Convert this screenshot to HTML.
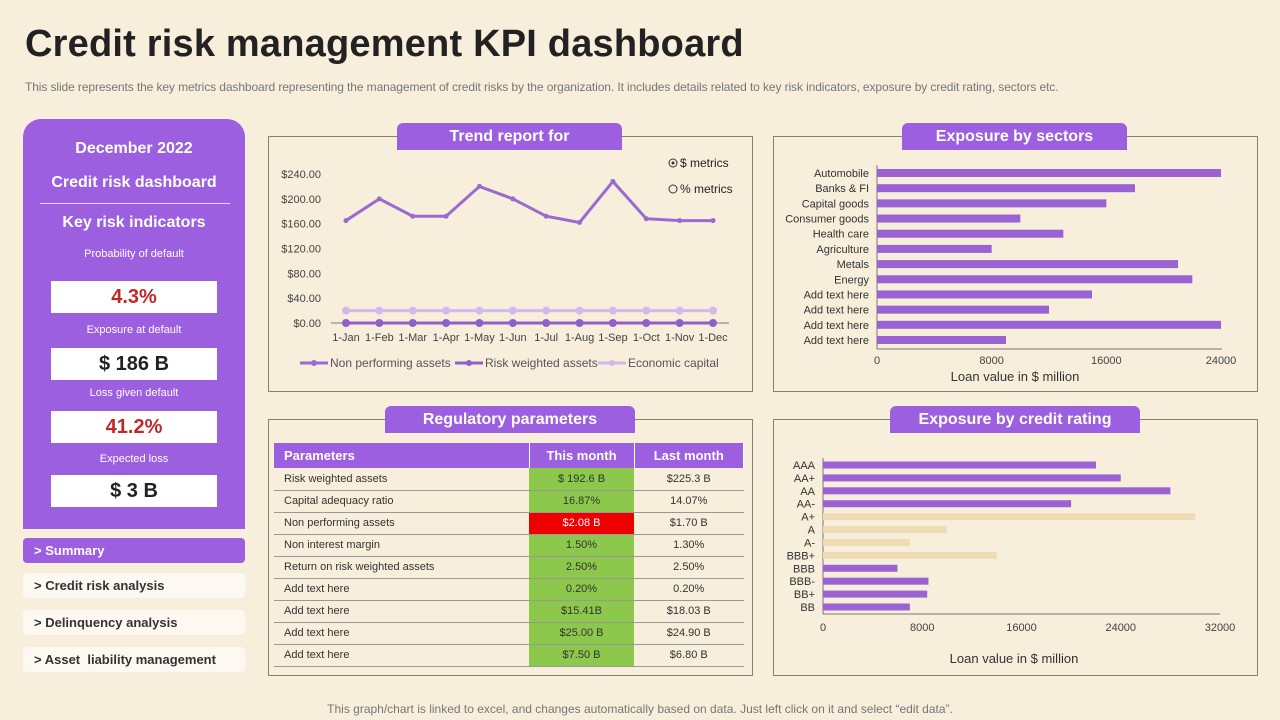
<!DOCTYPE html>
<html><head><meta charset="utf-8"><style>
*{box-sizing:border-box;margin:0;padding:0}
body{width:1280px;height:720px;background:#f7eedc;font-family:"Liberation Sans",sans-serif;position:relative;overflow:hidden;color:#333}
.abs{position:absolute}
.tab{position:absolute;background:#9b5fe0;color:#fff;font-weight:bold;font-size:16px;text-align:center;border-radius:6px 6px 0 0;line-height:27px;height:27px}
.box{position:absolute;border:1px solid #8a8070}
.kl{position:absolute;left:23px;width:222px;text-align:center;color:#fff;font-size:11px}
.kv{position:absolute;left:51px;width:166px;background:#fff;text-align:center;font-weight:bold;font-size:20px;line-height:32px;height:32px}
.nav{position:absolute;left:23px;width:222px;height:25px;line-height:25px;font-size:13px;font-weight:bold;padding-left:11px;border-radius:4px;background:#fdf9f2;color:#333}
table{position:absolute;left:274px;top:443px;width:470px;border-collapse:collapse;font-size:11px}
th{background:#9b5fe0;color:#fff;font-size:13px;height:25px;text-align:center;border-right:1px solid #fff}
th:first-child{text-align:left;padding-left:10px}
td{height:22px;border-bottom:1px solid #999;text-align:center;color:#333}
td:first-child{text-align:left;padding-left:10px}
td.g{background:#8cc84b}td.r{background:#ee0000;color:#fff}
svg text{font-family:"Liberation Sans",sans-serif}
</style></head><body>
<div class="abs" style="left:25px;top:23px;font-size:38px;font-weight:bold;color:#222;letter-spacing:0.2px">Credit risk management KPI dashboard</div>
<div class="abs" style="left:25px;top:80px;font-size:12px;color:#777;letter-spacing:-0.1px">This slide represents the key metrics dashboard representing the management of credit risks by the organization. It includes details related to key risk indicators, exposure by credit rating, sectors etc.</div>

<div class="abs" style="left:23px;top:119px;width:222px;height:410px;background:#9b5fe0;border-radius:18px 18px 0 0"></div>
<div class="kl" style="top:140px;font-size:16px;font-weight:bold">December 2022</div>
<div class="kl" style="top:174px;font-size:16px;font-weight:bold">Credit risk dashboard</div>
<div class="abs" style="left:40px;top:203px;width:190px;height:1px;background:#e6d6f5"></div>
<div class="kl" style="top:214px;font-size:16px;font-weight:bold">Key risk indicators</div>
<div class="kl" style="top:248px">Probability of default</div>
<div class="kv" style="top:281px;color:#c0282a">4.3%</div>
<div class="kl" style="top:324px">Exposure at default</div>
<div class="kv" style="top:348px;color:#222">$ 186 B</div>
<div class="kl" style="top:387px">Loss given default</div>
<div class="kv" style="top:411px;color:#c0282a">41.2%</div>
<div class="kl" style="top:453px">Expected loss</div>
<div class="kv" style="top:475px;color:#222">$ 3 B</div>

<div class="nav" style="top:538px;background:#9b5fe0;color:#fff">&gt; Summary</div>
<div class="nav" style="top:573px">&gt; Credit risk analysis</div>
<div class="nav" style="top:610px">&gt; Delinquency analysis</div>
<div class="nav" style="top:647px">&gt; Asset&nbsp; liability management</div>

<div class="box" style="left:268px;top:136px;width:485px;height:256px"></div>
<div class="box" style="left:773px;top:136px;width:485px;height:256px"></div>
<div class="box" style="left:268px;top:419px;width:485px;height:257px"></div>
<div class="box" style="left:773px;top:419px;width:485px;height:257px"></div>
<div class="tab" style="left:397px;top:123px;width:225px">Trend report for</div>
<div class="tab" style="left:902px;top:123px;width:225px">Exposure by sectors</div>
<div class="tab" style="left:385px;top:406px;width:250px">Regulatory parameters</div>
<div class="tab" style="left:890px;top:406px;width:250px">Exposure by credit rating</div>

<table>
<tr><th style="width:255px">Parameters</th><th style="width:105px">This month</th><th>Last month</th></tr>
<tr><td>Risk weighted assets</td><td class="g">$ 192.6 B</td><td>$225.3 B</td></tr>
<tr><td>Capital adequacy ratio</td><td class="g">16.87%</td><td>14.07%</td></tr>
<tr><td>Non performing assets</td><td class="r">$2.08 B</td><td>$1.70 B</td></tr>
<tr><td>Non interest margin</td><td class="g">1.50%</td><td>1.30%</td></tr>
<tr><td>Return on risk weighted assets</td><td class="g">2.50%</td><td>2.50%</td></tr>
<tr><td>Add text here</td><td class="g">0.20%</td><td>0.20%</td></tr>
<tr><td>Add text here</td><td class="g">$15.41B</td><td>$18.03 B</td></tr>
<tr><td>Add text here</td><td class="g">$25.00 B</td><td>$24.90 B</td></tr>
<tr><td>Add text here</td><td class="g">$7.50 B</td><td>$6.80 B</td></tr>
</table>

<svg id="svg" class="abs" style="left:0;top:0" width="1280" height="720"></svg>

<div class="abs" style="left:0;width:1280px;top:702px;text-align:center;font-size:12px;color:#777">This graph/chart is linked to excel, and changes automatically based on data. Just left click on it and select “edit data”.</div>

<script>
const months=["1-Jan","1-Feb","1-Mar","1-Apr","1-May","1-Jun","1-Jul","1-Aug","1-Sep","1-Oct","1-Nov","1-Dec"];
const npaValues=[165,200,172,172,220,200,172,162,228,168,165,165];
const rwaValues=[0,0,0,0,0,0,0,0,0,0,0,0];
const ecValues=[20,20,20,20,20,20,20,20,20,20,20,20];
const trendTicks=[0,40,80,120,160,200,240];
const sectors=["Automobile","Banks & FI","Capital goods","Consumer goods","Health care","Agriculture","Metals","Energy","Add text here","Add text here","Add text here","Add text here"];
const sectorValues=[24000,18000,16000,10000,13000,8000,21000,22000,15000,12000,24000,9000];
const sectorTicks=[0,8000,16000,24000];
const ratings=["AAA","AA+","AA","AA-","A+","A","A-","BBB+","BBB","BBB-","BB+","BB"];
const ratingValues=[22000,24000,28000,20000,30000,10000,7000,14000,6000,8500,8400,7000];
const ratingHighlight=[0,0,0,0,1,1,1,1,0,0,0,0];
const ratingTicks=[0,8000,16000,24000,32000];

const svg=document.getElementById('svg');const NS='http://www.w3.org/2000/svg';
function mk(t,a,txt){const e=document.createElementNS(NS,t);for(const k in a)e.setAttribute(k,a[k]);if(txt!==undefined)e.textContent=txt;svg.appendChild(e);return e;}

// trend chart
const tx=i=>346+i*(713-346)/(months.length-1);
const ty=v=>323-v/240*149;
trendTicks.forEach(t=>{const e=mk('text',{x:321,y:ty(t)+4,'font-size':11,'text-anchor':'end',fill:'#444'},'$'+t.toFixed(2));

});
mk('line',{x1:331,y1:323,x2:729,y2:323,stroke:'#777'});
months.forEach((m,i)=>{const e=mk('text',{x:tx(i),y:341,'font-size':11,'text-anchor':'middle',fill:'#444'},m);

});
function series(vals,col,w,r,name){const p=mk('polyline',{points:vals.map((v,i)=>tx(i)+','+ty(v)).join(' '),fill:'none',stroke:col,'stroke-width':w});


vals.forEach((v,i)=>{const c=mk('circle',{cx:tx(i),cy:ty(v),r:r,fill:col});

});}
series(ecValues,'#d4b8ea',3,4,'economic-capital');
series(rwaValues,'#9060c8',3,4,'risk-weighted-assets');
series(npaValues,'#9a6ad0',3,2.5,'non-performing-assets');
[['Non performing assets','#9a6ad0',300],['Risk weighted assets','#9060c8',455],['Economic capital','#d4b8ea',598]].forEach(l=>{
mk('line',{x1:l[2],y1:363,x2:l[2]+28,y2:363,stroke:l[1],'stroke-width':3});mk('circle',{cx:l[2]+14,cy:363,r:3,fill:l[1]});
const e=mk('text',{x:l[2]+30,y:367,'font-size':12,fill:'#555'},l[0]);

});
mk('circle',{cx:673,cy:163,r:4,fill:'none',stroke:'#333'});mk('circle',{cx:673,cy:163,r:1.5,fill:'#333'});
const r1=mk('text',{x:680,y:167,'font-size':12,fill:'#222'},'$ metrics');


mk('circle',{cx:673,cy:189,r:4,fill:'none',stroke:'#333'});
const r2=mk('text',{x:680,y:193,'font-size':12,fill:'#222'},'% metrics');



// sectors
const sx=v=>877+v/24000*344;
const sy=i=>173+i*(340-173)/(sectors.length-1);
mk('line',{x1:877,y1:165,x2:877,y2:349,stroke:'#777'});
mk('line',{x1:877,y1:349,x2:1222,y2:349,stroke:'#777'});
sectors.forEach((s,i)=>{const b=mk('rect',{x:877,y:sy(i)-4,width:sx(sectorValues[i])-877,height:8,fill:'#9b62d4'});


const t=mk('text',{x:869,y:sy(i)+4,'font-size':11,'text-anchor':'end',fill:'#333'},s);

});
sectorTicks.forEach(t=>{const e=mk('text',{x:sx(t),y:364,'font-size':11,'text-anchor':'middle',fill:'#444'},t);

});
const st=mk('text',{x:1015,y:381,'font-size':13,'text-anchor':'middle',fill:'#333'},'Loan value  in $ million');



// ratings
const rx=v=>823+v/32000*397;
const ry=i=>465+i*(607-465)/(ratings.length-1);
mk('line',{x1:823,y1:458,x2:823,y2:614,stroke:'#777'});
mk('line',{x1:823,y1:614,x2:1220,y2:614,stroke:'#777'});
ratings.forEach((s,i)=>{const b=mk('rect',{x:823,y:ry(i)-3.5,width:rx(ratingValues[i])-823,height:7,fill:ratingHighlight[i]?'#f0dcb4':'#9b62d4'});


const t=mk('text',{x:815,y:ry(i)+4,'font-size':11,'text-anchor':'end',fill:'#333'},s);

});
ratingTicks.forEach(t=>{const e=mk('text',{x:rx(t),y:631,'font-size':11,'text-anchor':'middle',fill:'#444'},t);

});
const rt=mk('text',{x:1014,y:663,'font-size':13,'text-anchor':'middle',fill:'#333'},'Loan value  in $ million');


</script>
</body></html>
